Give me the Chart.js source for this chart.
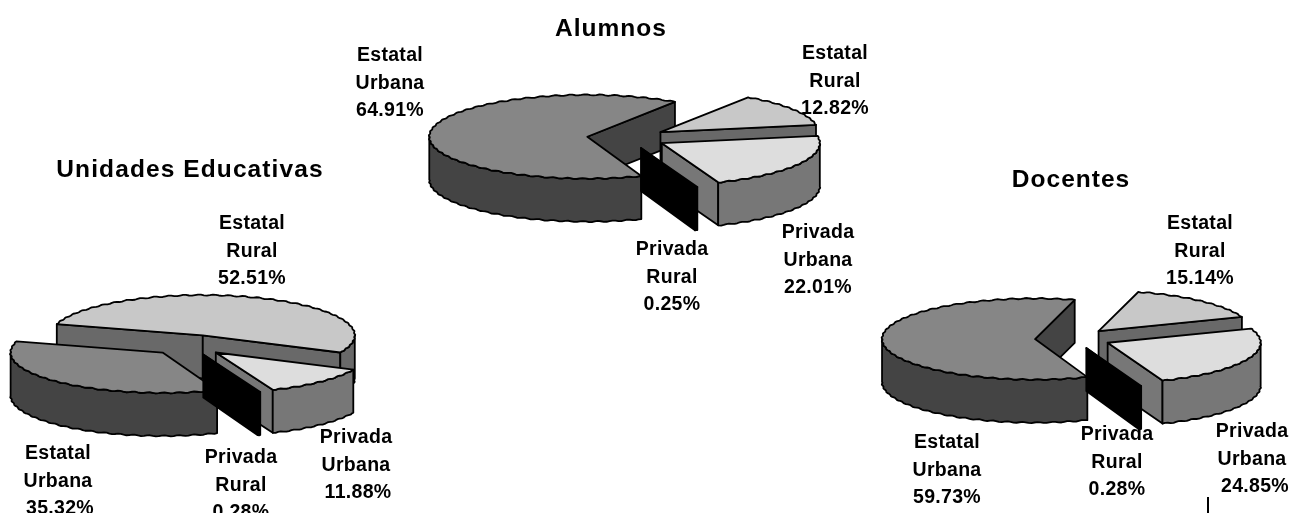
<!DOCTYPE html>
<html><head><meta charset="utf-8">
<style>
html,body{margin:0;padding:0;background:#fff;overflow:hidden;width:1295px;height:513px}
canvas{position:absolute}
#rule{position:absolute;left:1207px;top:497px;width:1.5px;height:16px;background:#000}
</style>
<script src="https://cdn.jsdelivr.net/npm/chart.js@4"></script>
</head><body>
<canvas id="c1" style="left:0;top:150px" width="420" height="363"></canvas>
<canvas id="c2" style="left:327px;top:0" width="600" height="320"></canvas>
<canvas id="c3" style="left:860px;top:160px" width="435" height="353"></canvas>
<div id="rule"></div>
<script>
const categories = ['Estatal Urbana','Estatal Rural','Privada Urbana','Privada Rural'];
const unidadesValues = [35.32,52.51,11.88,0.28];
const alumnosValues = [64.91,12.82,22.01,0.25];
const docentesValues = [59.73,15.14,24.85,0.28];
const topColors = ['#868686','#c8c8c8','#dddddd','#000000'];
const sideColors = ['#444444','#696969','#777777','#000000'];

const FONT='bold 19.5px "Liberation Sans", Arial, sans-serif';
const TFONT='bold 24.5px "Liberation Sans", Arial, sans-serif';
const K=0.265, DEPTH=43;

// Rim outline: ellipse with the small scalloped edge of the original's 3-D rendering
function rimPts(cx,cy,R,a0,a1,dy){
  const pts=[],n=Math.max(2,Math.ceil(Math.abs(a1-a0)*R/3));
  for(let i=0;i<=n;i++){
    const a=a0+(a1-a0)*i/n;
    const w=(i>0&&i<n)?Math.sin(a*R/2.4):0;
    pts.push([cx+Math.cos(a)*(R+0.5*w),cy+Math.sin(a)*R*K+Math.sin(a)*0.55*w+dy]);
  }
  return pts;
}
function poly(ctx,pts,fill){
  ctx.beginPath();pts.forEach((p,i)=>i?ctx.lineTo(p[0],p[1]):ctx.moveTo(p[0],p[1]));ctx.closePath();
  if(fill){ctx.fillStyle=fill;ctx.fill();}
  ctx.stroke();
}
const pie3d={
  id:'pie3d',
  beforeDatasetsDraw(chart,args,opts){
    const ctx=chart.ctx,meta=chart.getDatasetMeta(0);
    ctx.save();
    ctx.lineJoin='round';ctx.strokeStyle='#000';ctx.lineWidth=1.8;
    for(const i of opts.paintOrder){
      const el=meta.data[i],mid=(el.startAngle+el.endAngle)/2;
      const R=el.outerRadius,s=el.startAngle,e=el.endAngle;
      const cx=el.x+Math.cos(mid)*opts.explode,cy=el.y+Math.sin(mid)*opts.explode*K;
      const P=a=>[cx+Math.cos(a)*R,cy+Math.sin(a)*R*K];
      const side=sideColors[i];
      const A=[cx,cy],Ad=[cx,cy+DEPTH];
      const wall=a=>{const p=P(a);poly(ctx,[A,p,[p[0],p[1]+DEPTH],Ad],side);};
      if(Math.cos(s)<0) wall(s);
      if(Math.cos(e)>0) wall(e);
      for(const k of [0,1]){
        const lo=Math.max(s,k*2*Math.PI),hi=Math.min(e,k*2*Math.PI+Math.PI);
        if(hi>lo){
          const top=rimPts(cx,cy,R,lo,hi,0),bot=rimPts(cx,cy,R,hi,lo,DEPTH);
          poly(ctx,top.concat(bot),side);
        }
      }
      ctx.save();
      ctx.translate(cx,cy);ctx.scale(1,K);ctx.translate(-el.x,-el.y);
      el.draw(ctx);
      ctx.restore();
      poly(ctx,[A].concat(rimPts(cx,cy,R,s,e,0)),null);
    }
    ctx.restore();
    return false;
  },
  afterDraw(chart,args,opts){
    const ctx=chart.ctx,r=chart.canvas.getBoundingClientRect();
    ctx.save();
    ctx.fillStyle='#000';ctx.textAlign='center';ctx.textBaseline='alphabetic';
    ctx.font=TFONT;ctx.letterSpacing=opts.titleSpacing+'px';
    ctx.fillText(opts.title,opts.titleAt[0]-r.left,opts.titleAt[1]-r.top);
    ctx.font=FONT;ctx.letterSpacing='0.3px';
    chart.data.labels.forEach((lab,i)=>{
      const [x,y]=opts.labelAt[i];
      const lines=lab.split(' ').concat([chart.data.datasets[0].data[i].toFixed(2)+'%']);
      lines.forEach((t,j)=>{
        const dx=(j===2&&opts.pctDx)?opts.pctDx[i]:0;
        ctx.fillText(t,x+dx-r.left,y+j*opts.lineGap-r.top);
      });
    });
    ctx.restore();
  }
};
function makePie(id,values,c,R,rotation,cfg){
  const cv=document.getElementById(id);
  const left=parseFloat(cv.style.left)||0,top=parseFloat(cv.style.top)||0;
  const w=cv.width,h=cv.height;
  const sx=c[0]-left,sy=c[1]-top;
  const padding={left:Math.max(0,2*sx-w),right:Math.max(0,w-2*sx),top:Math.max(0,2*sy-h),bottom:Math.max(0,h-2*sy)};
  return new Chart(cv,{
    type:'pie',
    data:{labels:categories,datasets:[{data:values,backgroundColor:topColors,borderWidth:0}]},
    options:{
      responsive:false,animation:false,events:[],devicePixelRatio:1,
      rotation,radius:R,layout:{padding},
      plugins:{legend:{display:false},tooltip:{enabled:false},title:{display:false},pie3d:cfg}
    },
    plugins:[pie3d]
  });
}
makePie('c1',unidadesValues,[189,345],152,159,{explode:39,paintOrder:[1,2,0,3],title:'Unidades Educativas',titleAt:[190,177],titleSpacing:1.1,lineGap:27.7,
  labelAt:[[58,459],[252,229],[356,443],[241,463]],pctDx:[2,0,2,0]});
makePie('c2',alumnosValues,[627,138],158,160,{explode:40,paintOrder:[0,1,2,3],title:'Alumnos',titleAt:[611,36],titleSpacing:1,lineGap:27.7,
  labelAt:[[390,61],[835,59],[818,238],[672,255]],pctDx:[0,0,0,0]});
makePie('c3',docentesValues,[1073,338.6],153,160,{explode:38,paintOrder:[0,1,2,3],title:'Docentes',titleAt:[1071,187],titleSpacing:1,lineGap:27.7,
  labelAt:[[947,448],[1200,229],[1252,437],[1117,440]],pctDx:[0,0,3,0]});
</script>
</body></html>
